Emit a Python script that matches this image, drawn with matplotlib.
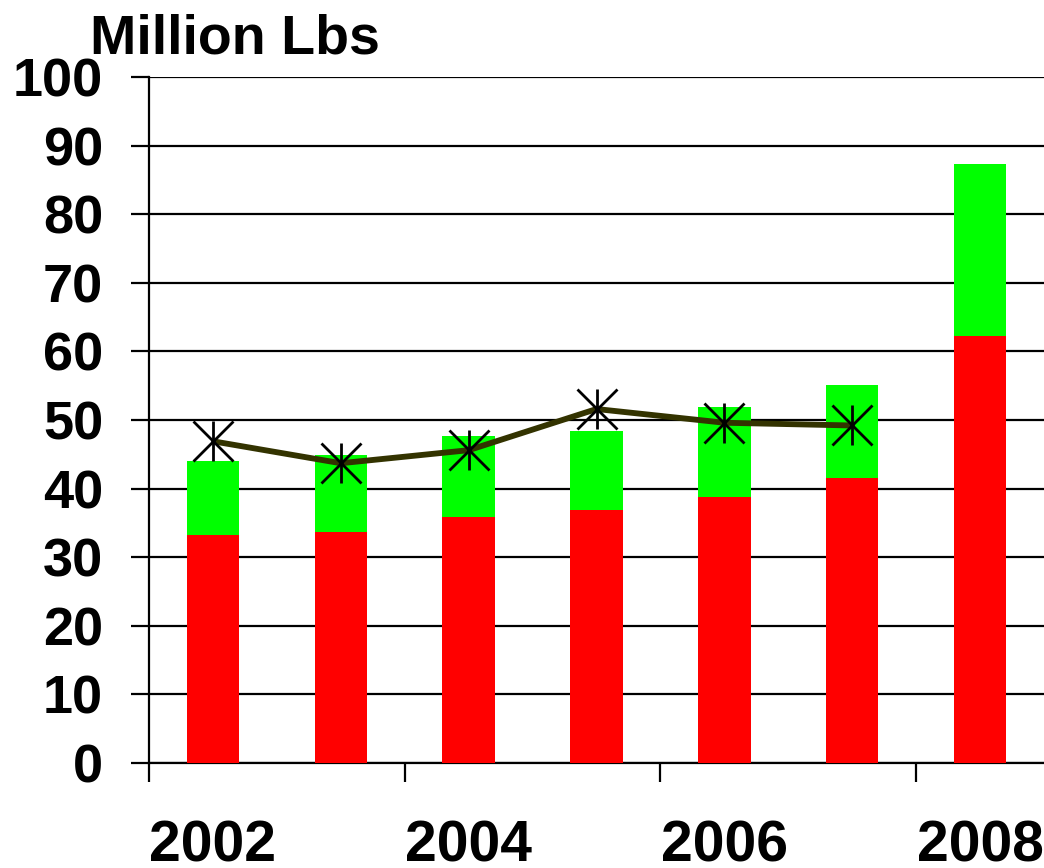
import matplotlib
matplotlib.use("Agg")
import matplotlib.pyplot as plt
import numpy as np

years = ["2002", "2003", "2004", "2005", "2006", "2007", "2008"]
red_vals = [33.2, 33.7, 35.8, 36.9, 38.8, 41.6, 62.2]
total_vals = [44.0, 44.85, 47.7, 48.4, 51.9, 55.1, 87.3]
green_vals = [t - r for t, r in zip(total_vals, red_vals)]
line_vals = [46.9, 43.7, 45.6, 51.6, 49.6, 49.2]
yticks = [0, 10, 20, 30, 40, 50, 60, 70, 80, 90, 100]
xlabels = ["2002", "2004", "2006", "2008"]

plt.rcParams['font.family'] = ['Liberation Sans', 'DejaVu Sans']
plt.rcParams['font.weight'] = 'bold'

fig = plt.figure(figsize=(10.44, 8.68), dpi=100)
W, H = 1044, 868
ax = fig.add_axes([149 / W, 1 - 763 / H, (1044 - 149) / W, (763 - 77) / H])

x = np.arange(len(years))
ax.bar(x, red_vals, width=0.41, color="#ff0000", zorder=3)
ax.bar(x, green_vals, bottom=red_vals, width=0.41, color="#00ff00", zorder=3)

lx = x[:len(line_vals)]
ax.plot(lx, line_vals, color="#333300", lw=4.2, zorder=4, solid_capstyle='butt')
ax.plot(lx, line_vals, ls='none', marker='x', ms=29, mew=2, mec='black', zorder=5)
ax.plot(lx, line_vals, ls='none', marker='|', ms=29, mew=2, mec='black', zorder=5)

ax.set_xlim(-0.5, len(years) - 0.5)
ax.set_ylim(0, 100)
ax.set_yticks(yticks)
ax.set_yticklabels([str(v) for v in yticks], fontsize=39, fontweight='bold')
ax.tick_params(axis='y', length=13, width=1.6, pad=20, direction='out')
ax.yaxis.grid(True, color='black', lw=1.6, zorder=0)
ax.set_axisbelow(True)

ax.set_xticks([-0.5, 1.5, 3.5, 5.5])
ax.set_xticklabels([])
ax.set_xticks([0, 2, 4, 6], minor=True)
ax.set_xticklabels(xlabels, minor=True, fontsize=41, fontweight='bold')
ax.tick_params(axis='x', which='major', length=14, width=1.6, direction='out')
ax.tick_params(axis='x', which='minor', length=0, pad=41)

for s in ['top', 'right']:
    ax.spines[s].set_visible(False)
ax.spines['left'].set_linewidth(1.6)
ax.spines['bottom'].set_linewidth(1.6)

fig.text(90 / W, 1 - 54 / H, "Million Lbs", fontsize=40, fontweight='bold', ha='left', va='baseline')

fig.savefig("out.png", dpi=100)
